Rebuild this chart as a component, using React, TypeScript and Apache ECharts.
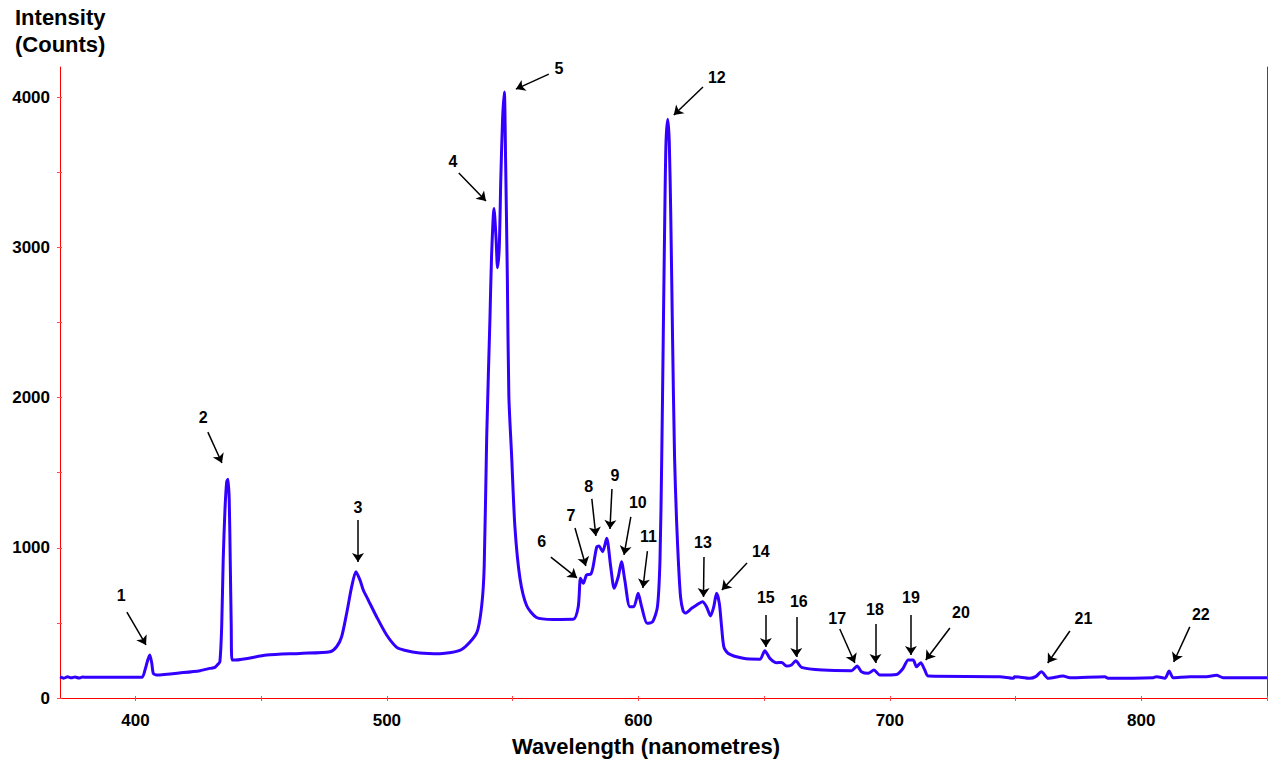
import React, { useEffect, useRef } from "react";
import * as echarts from "echarts";

// ---- Spectrum data (wavelength in nm, intensity in counts) ----
const wavelengths = [
  370.0, 371.5, 373.0, 374.5, 376.0, 377.5, 379.0, 380.6, 390.0, 402.5,
  403.8, 404.9, 405.7, 406.5, 407.1, 408.4, 419.0, 425.7, 429.6, 431.6,
  432.9, 433.6, 434.3, 434.9, 435.6, 436.3, 436.8, 437.3, 437.7, 438.1,
  438.4, 439.6, 452.2, 465.4, 477.4, 480.0, 482.0, 484.0, 486.0, 487.7,
  489.3, 490.6, 492.6, 495.9, 499.9, 503.9, 507.0, 513.0, 521.1, 529.7,
  535.7, 537.7, 538.7, 539.7, 541.0, 541.6, 542.6, 543.4, 544.0, 544.7,
  545.3, 546.0, 546.7, 547.2, 547.9, 548.5, 549.6, 550.9, 552.9, 555.6,
  559.5, 566.1, 574.1, 576.1, 577.0, 578.1, 579.4, 581.1, 582.0, 583.4,
  584.3, 585.8, 587.4, 589.0, 590.4, 592.0, 593.3, 594.6, 596.6, 598.2,
  599.9, 601.3, 603.5, 605.7, 607.6, 608.6, 609.3, 609.9, 610.5, 611.0,
  611.7, 612.3, 612.9, 613.6, 614.4, 615.2, 616.0, 616.8, 617.8, 618.7,
  621.2, 623.2, 625.5, 627.1, 628.7, 630.0, 631.1, 632.2, 633.1, 634.0,
  635.7, 641.7, 648.3, 650.3, 652.3, 655.0, 657.0, 658.9, 660.9, 662.6,
  664.9, 673.5, 684.8, 687.0, 688.7, 691.4, 693.7, 696.0, 702.7, 705.3,
  707.3, 709.3, 710.6, 712.3, 713.9, 715.3, 743.8, 749.1, 749.6, 755.7,
  758.0, 760.3, 763.0, 768.9, 771.6, 785.5, 786.8, 804.7, 806.1, 809.4,
  811.1, 812.7, 819.3, 825.9, 829.9, 832.6, 850.0,
];
const intensities = [
  140, 132, 141, 134, 140, 133, 139, 138, 138, 138,
  186, 253, 286, 231, 164, 153, 169, 182, 197, 204,
  226, 242, 475, 918, 1251, 1440, 1456, 1318, 918, 475,
  253, 253, 286, 297, 308, 341, 408, 564, 741, 841,
  785, 719, 652, 541, 419, 337, 318, 300, 295, 323,
  433, 614, 879, 1746, 2536, 2929, 3258, 3062, 2864, 3008,
  3456, 3850, 4034, 3587, 2798, 2010, 1614, 1141, 799, 614,
  536, 523, 524, 608, 797, 763, 819, 825, 874, 1003,
  1012, 974, 1063, 874, 730, 807, 907, 785, 608, 608,
  697, 608, 497, 508, 608, 918, 1600, 2400, 3200, 3700,
  3853, 3700, 3200, 2400, 1600, 1180, 880, 670, 580, 565,
  597, 619, 641, 608, 546, 608, 697, 630, 475, 341,
  297, 264, 258, 315, 264, 235, 237, 213, 220, 248,
  204, 186, 182, 213, 175, 164, 186, 153, 157, 198,
  253, 253, 208, 235, 186, 146, 142, 131, 142, 131,
  142, 175, 131, 146, 135, 142, 131, 135, 142, 131,
  180, 135, 142, 142, 151, 135, 135,
];

// ---- Axis ticks / labels ----
const xTickValues = [400, 450, 500, 550, 600, 650, 700, 750, 800, 850];
const xLabelValues = [400, 500, 600, 700, 800];
const yTickValues = [0, 500, 1000, 1500, 2000, 2500, 3000, 3500, 4000];
const yLabelValues = [0, 1000, 2000, 3000, 4000];

// ---- Peak annotations (data coordinates) ----
const annoLabels = ["1","2","3","4","5","6","7","8","9","10","11","12","13","14","15","16","17","18","19","20","21","22"];
const annoLabelX = [394.3, 426.9, 488.5, 526.3, 568.4, 561.6, 573.2, 580.3, 590.7, 599.8, 604.0, 631.2, 625.7, 648.7, 650.7, 663.8, 679.1, 694.1, 708.4, 728.3, 777.0, 823.7];
const annoLabelY = [679, 1864, 1271, 3568, 4190, 1045, 1218, 1411, 1478, 1298, 1072, 4133, 1032, 978, 672, 639, 526, 592, 672, 572, 532, 559];
const annoTailX = [396.6, 428.8, 488.5, 528.6, 564.4, 565.2, 574.8, 581.5, 589.5, 597.0, 603.6, 625.7, 626.1, 643.2, 650.7, 662.8, 680.1, 694.3, 708.4, 723.9, 771.6, 819.3];
const annoTailY = [572, 1770, 1185, 3494, 4153, 938, 1131, 1325, 1391, 1205, 978, 4067, 938, 899, 552, 539, 459, 493, 552, 466, 446, 473];
const annoTipX = [404.2, 434.4, 488.5, 539.4, 551.3, 575.6, 579.1, 583.1, 588.7, 594.3, 601.8, 614.1, 625.9, 633.2, 650.7, 662.8, 686.1, 694.3, 708.4, 714.3, 762.8, 812.9];
const annoTipY = [353, 1564, 905, 3308, 4053, 799, 879, 1078, 1125, 952, 732, 3880, 672, 719, 339, 273, 233, 233, 286, 253, 233, 240];

const FONT = '"Liberation Sans", Arial, Helvetica, sans-serif';
const RED = "#ff0000";
const TICK = "#ff4a4a";

export default function App() {
  const ref = useRef<HTMLDivElement>(null);

  useEffect(() => {
    if (!ref.current) return;
    const chart = echarts.init(ref.current, undefined, { renderer: "svg" });

    const seriesData = wavelengths.map((w, i) => [w, intensities[i]]);
    const arrows = annoLabels.map((_, i) => [
      { coord: [annoTailX[i], annoTailY[i]], symbol: "none" },
      { coord: [annoTipX[i], annoTipY[i]], symbol: "arrow" },
    ]);
    const labels = annoLabels.map((t, i) => ({
      name: t,
      coord: [annoLabelX[i], annoLabelY[i]],
    }));

    const plain = (v: number) => String(v);

    const xBase = {
      type: "value",
      min: 370,
      max: 850,
      position: "bottom",
      splitLine: { show: false },
    };
    const yBase = {
      type: "value",
      min: 0,
      max: 4200,
      splitLine: { show: false },
    };

    chart.setOption({
      animation: false,
      textStyle: { fontFamily: FONT },
      grid: { left: 60, right: 12, top: 67, bottom: 73, containLabel: false },
      xAxis: [
        {
          ...xBase,
          axisLine: { show: true, lineStyle: { color: RED, width: 1 } },
          axisTick: { show: true, length: 3, customValues: xTickValues, lineStyle: { color: TICK } },
          axisLabel: {
            show: true,
            customValues: xLabelValues,
            formatter: plain,
            color: "#000",
            fontSize: 17,
            fontWeight: "bold",
            fontFamily: FONT,
            margin: 14,
          },
        },
        {
          ...xBase,
          axisLine: { show: false },
          axisTick: { show: true, inside: true, length: 2, customValues: xTickValues, lineStyle: { color: TICK } },
          axisLabel: { show: false },
        },
      ],
      yAxis: [
        {
          ...yBase,
          position: "left",
          axisLine: { show: true, lineStyle: { color: RED, width: 1 } },
          axisTick: { show: true, length: 3, customValues: yTickValues, lineStyle: { color: TICK } },
          axisLabel: {
            show: true,
            customValues: yLabelValues,
            formatter: plain,
            color: "#000",
            fontSize: 17,
            fontWeight: "bold",
            fontFamily: FONT,
            margin: 10,
          },
        },
        {
          ...yBase,
          position: "left",
          axisLine: { show: false },
          axisTick: { show: true, inside: true, length: 2, customValues: yTickValues, lineStyle: { color: TICK } },
          axisLabel: { show: false },
        },
        {
          ...yBase,
          position: "right",
          axisLine: { show: true, lineStyle: { color: RED, width: 1 } },
          axisTick: { show: false },
          axisLabel: { show: false },
        },
      ],
      graphic: [
        {
          type: "text",
          left: 15,
          top: 4,
          style: {
            text: "Intensity\n(Counts)",
            font: `bold 22px ${FONT}`,
            fill: "#000",
            lineHeight: 27,
          },
        },
        {
          type: "text",
          x: 646,
          y: 735,
          style: {
            text: "Wavelength (nanometres)",
            font: `bold 22px ${FONT}`,
            fill: "#000",
            align: "center",
            verticalAlign: "top",
          },
        },
      ],
      series: [
        {
          type: "line",
          xAxisIndex: 0,
          yAxisIndex: 0,
          data: seriesData,
          showSymbol: false,
          smooth: 0.25,
          lineStyle: { color: "#3300ff", width: 3 },
          silent: true,
          markLine: {
            silent: true,
            symbol: ["none", "arrow"],
            symbolSize: 9,
            lineStyle: { color: "#000", width: 1.5, type: "solid" },
            label: { show: false },
            emphasis: { disabled: true },
            data: arrows,
          },
          markPoint: {
            silent: true,
            symbol: "circle",
            symbolSize: 1,
            itemStyle: { color: "rgba(0,0,0,0)" },
            label: {
              show: true,
              position: "inside",
              formatter: (p: any) => p.name,
              color: "#000",
              fontSize: 16,
              fontWeight: "bold",
              fontFamily: FONT,
            },
            data: labels,
          },
        },
      ],
    });

    return () => chart.dispose();
  }, []);

  return (
    <div
      ref={ref}
      style={{ position: "fixed", left: 0, top: 0, width: 1279, height: 771, background: "#fff" }}
    />
  );
}
